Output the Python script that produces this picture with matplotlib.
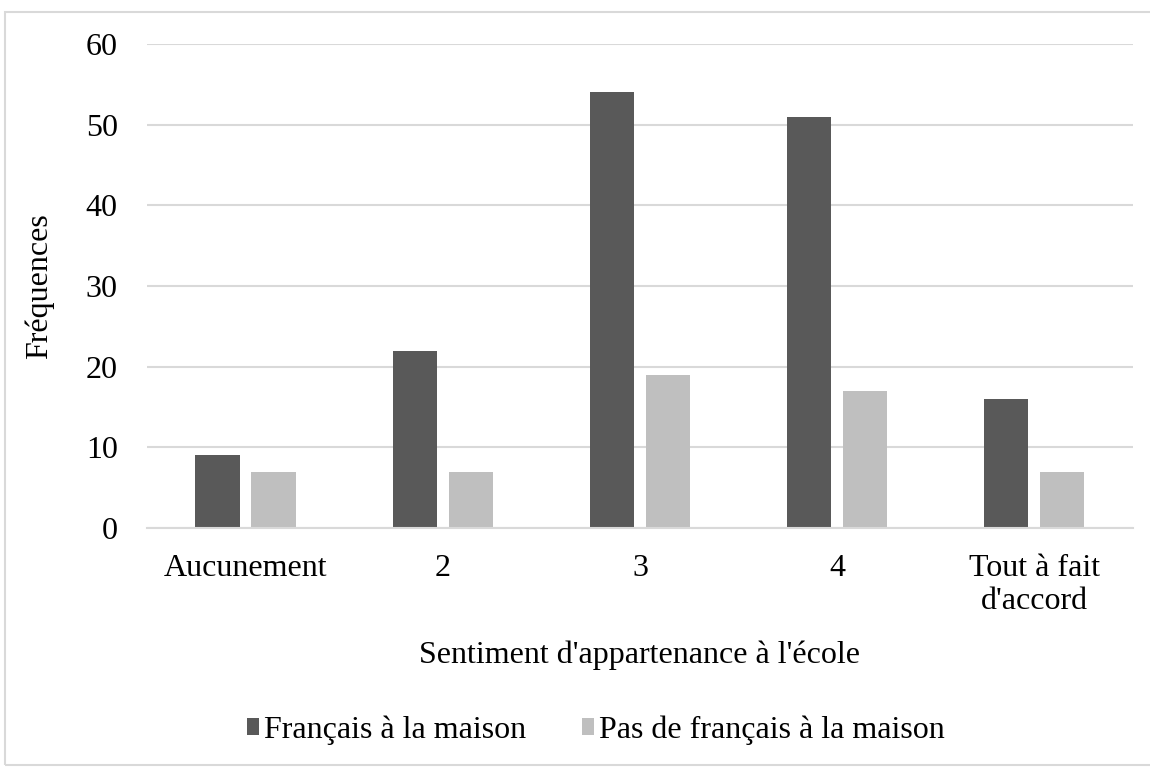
import matplotlib.pyplot as plt
import numpy as np
from matplotlib.patches import Rectangle

plt.rcParams['font.family'] = ['Liberation Serif', 'DejaVu Serif']

# Data
categories = ["Aucunement", "2", "3", "4", "Tout à fait\nd'accord"]
francais_maison = [9, 22, 54, 51, 16]
pas_francais_maison = [7, 7, 19, 17, 7]
series_names = ["Français à la maison", "Pas de français à la maison"]

dark_grey = '#595959'
light_grey = '#bfbfbf'
grid_grey = '#d9d9d9'
fs = 23

fig = plt.figure(figsize=(11.5, 7.67), dpi=100)
ax = fig.add_axes([0.1278, 0.3116, 0.8574, 0.631])

x = np.arange(len(categories))
width = 0.224
gap = 0.06
ax.bar(x - (width + gap) / 2, francais_maison, width, color=dark_grey,
       label=series_names[0], zorder=3)
ax.bar(x + (width + gap) / 2, pas_francais_maison, width, color=light_grey,
       label=series_names[1], zorder=3)

ax.set_xlim(-0.5, len(categories) - 0.5)
ax.set_ylim(0, 60)
ax.set_yticks(range(0, 61, 10))
ax.yaxis.grid(True, color=grid_grey, linewidth=1.5, zorder=0)

for side in ['top', 'right', 'left']:
    ax.spines[side].set_visible(False)
ax.spines['bottom'].set_color(grid_grey)
ax.spines['bottom'].set_linewidth(1.5)
ax.spines['bottom'].set_zorder(4)

ax.set_xticks(x)
ax.set_xticklabels(categories, linespacing=1.15)
ax.tick_params(axis='both', length=0, labelsize=fs, colors='black')
ax.tick_params(axis='x', pad=19)
ax.tick_params(axis='y', pad=21)

ax.set_ylabel("Fréquences", fontsize=fs, va='center')
ax.yaxis.set_label_coords(-0.109, 0.5)
ax.set_xlabel("Sentiment d'appartenance à l'école", fontsize=fs)
ax.xaxis.set_label_coords(0.5, -0.233)

ax.legend(loc='center', bbox_to_anchor=(0.518, 0.048), bbox_transform=fig.transFigure,
          ncol=2, frameon=False, fontsize=fs, handlelength=0.38, handleheight=0.45,
          handletextpad=0.15, columnspacing=1.75)

# outer chart frame
fig.patches.append(Rectangle((5 / 1150, 2 / 767), 1.2, 753 / 767,
                             transform=fig.transFigure, fill=False,
                             edgecolor=grid_grey, linewidth=1.5))

fig.savefig('out.png', dpi=100, facecolor='white')
